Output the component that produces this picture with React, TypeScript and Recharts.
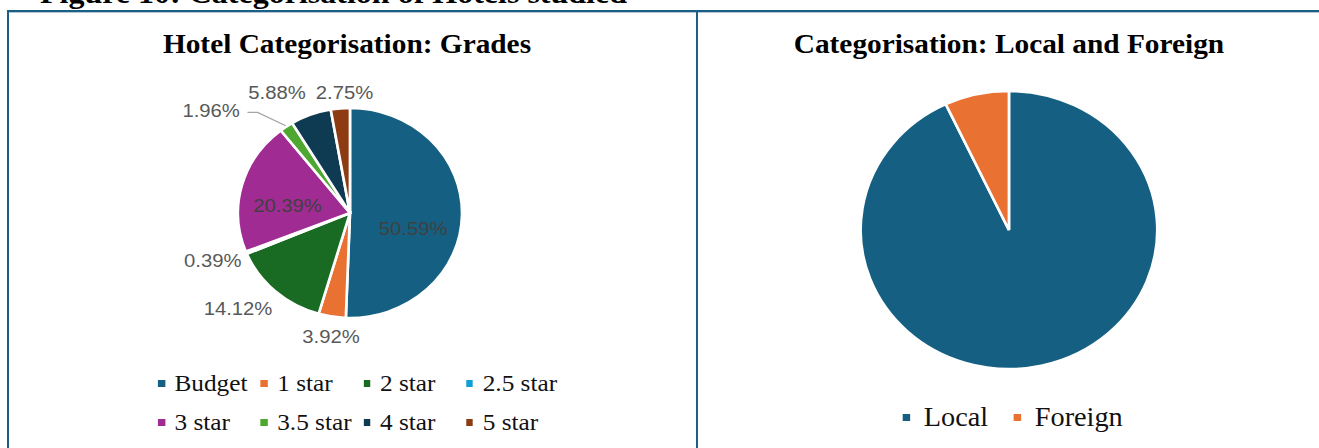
import { PieChart, Pie, Cell, Legend } from 'recharts';

// Hotel grades (percent of hotels studied)
const GRADES = ['Budget', '1 star', '2 star', '2.5 star', '3 star', '3.5 star', '4 star', '5 star'];
const GRADE_SHARE = [50.59, 3.92, 14.12, 0.39, 20.39, 1.96, 5.88, 2.75];
const GRADE_COLORS = ['#156082', '#E97132', '#196B24', '#0F9ED5', '#A02B93', '#4EA72E', '#0E3A52', '#8C3B12'];

// Local vs foreign ownership
const ORIGINS = ['Local', 'Foreign'];
const ORIGIN_SHARE = [93, 7];
const ORIGIN_COLORS = ['#156082', '#E97132'];

// label placement per slice: distance from centre and angle nudge (deg), like Excel's best fit
const GRADE_LABEL_POS = [
    { r: 61, da: -13 },
    { r: 125, da: 1 },
    { r: 142, da: -6 },
    { r: 137, da: -2 },
    { r: 59, da: 8 },
    { r: 166, da: 17 },
    { r: 139, da: 9 },
    { r: 121, da: -2.5 },
];

const STRETCH = 1.067; // the source figure is slightly stretched horizontally
const RADIAN = Math.PI / 180;
const BORDER = '#1a5f87';

const gradeData = GRADES.map((name, i) => ({ name, value: GRADE_SHARE[i] }));
const originData = ORIGINS.map((name, i) => ({ name, value: ORIGIN_SHARE[i] }));

const GradeLabel = (props: any) => {
    const { cx, cy, midAngle, outerRadius, index, value } = props;
    const pos = GRADE_LABEL_POS[index];
    const a = (midAngle + pos.da) * RADIAN;
    const tx = cx + pos.r * Math.cos(a);
    const ty = cy - pos.r * Math.sin(a);
    const inside = pos.r < outerRadius;
    const text = (
        <text x={tx} y={ty} textAnchor="middle" dominantBaseline="central"
            fontFamily="'Liberation Sans', Arial, sans-serif" fontSize={19}
            fill={inside ? '#404040' : '#595959'}>
            {`${value.toFixed(2)}%`}
        </text>
    );
    if (index !== 5) return text;
    // leader line for the small 3.5 star slice
    const ex = cx + (outerRadius + 1) * Math.cos(midAngle * RADIAN);
    const ey = cy - (outerRadius + 1) * Math.sin(midAngle * RADIAN);
    return (
        <g>
            <polyline points={`${tx + 34},${ty + 2.5} ${tx + 43.5},${ty + 2.5} ${ex},${ey}`}
                fill="none" stroke="#a6a6a6" strokeWidth={1.3} />
            {text}
        </g>
    );
};

const legendItem = (name: string, color: string, size: number, font: number, gap: number, width?: number) => (
    <div key={name} style={{ display: 'flex', alignItems: 'center', width, height: 39 }}>
        <span style={{ width: size - 0.5, height: size, background: color, marginRight: gap, flexShrink: 0 }} />
        <span style={{ fontSize: font, color: '#111', whiteSpace: 'nowrap' }}>{name}</span>
    </div>
);

const GradeLegend = () => (
    <div style={{ display: 'flex', flexWrap: 'wrap', width: 386, fontFamily: "'Liberation Serif', serif" }}>
        {GRADES.map((g, i) => legendItem(g, GRADE_COLORS[i], 7, 23.7, 9, 96.3))}
    </div>
);

const OriginLegend = () => (
    <div style={{ display: 'flex', fontFamily: "'Liberation Serif', serif" }}>
        {ORIGINS.map((g, i) => legendItem(g, ORIGIN_COLORS[i], 7, 26.5, 13, i === 0 ? 104 : undefined))}
    </div>
);

export default function App() {
    return (
        <div style={{ position: 'absolute', left: 0, top: 0, width: 1319, height: 448, overflow: 'hidden', background: '#fff' }}>
            <div style={{
                position: 'absolute', left: 0, top: 0, width: 1236, height: 448,
                transform: `scaleX(${STRETCH})`, transformOrigin: '0 0',
            }}>
                <svg width={1236} height={448} style={{ position: 'absolute', left: 0, top: 0 }}>
                    <text x={37.5} y={3} fontFamily="'Liberation Serif', serif" fontWeight="bold" fontSize={30} fill="#000">
                        Figure 10: Categorisation of Hotels studied
                    </text>
                    <text x={325.2} y={53} textAnchor="middle" fontFamily="'Liberation Serif', serif" fontWeight="bold" fontSize={27.5} fill="#000">
                        Hotel Categorisation: Grades
                    </text>
                    <text x={945.6} y={53} textAnchor="middle" fontFamily="'Liberation Serif', serif" fontWeight="bold" fontSize={27.5} fill="#000">
                        Categorisation: Local and Foreign
                    </text>
                </svg>

                <div style={{ position: 'absolute', left: 0, top: 0 }}>
                    <PieChart width={652} height={448} margin={{ top: 0, right: 0, bottom: 0, left: 0 }}>
                        <Pie data={gradeData} dataKey="value" nameKey="name" cx={328} cy={213} outerRadius={105}
                            startAngle={90} endAngle={-270} stroke="#fff" strokeWidth={2.5}
                            label={GradeLabel} labelLine={false} isAnimationActive={false}>
                            {gradeData.map((d, i) => <Cell key={d.name} fill={GRADE_COLORS[i]} />)}
                        </Pie>
                        <Legend content={<GradeLegend />} wrapperStyle={{ left: 148, top: 364, width: 400 }} />
                    </PieChart>
                </div>

                <div style={{ position: 'absolute', left: 652, top: 0 }}>
                    <PieChart width={584} height={448} margin={{ top: 0, right: 0, bottom: 0, left: 0 }}>
                        <Pie data={originData} dataKey="value" nameKey="name" cx={293.6} cy={230} outerRadius={139}
                            startAngle={90} endAngle={-270} stroke="#fff" strokeWidth={2.5}
                            isAnimationActive={false}>
                            {originData.map((d, i) => <Cell key={d.name} fill={ORIGIN_COLORS[i]} />)}
                        </Pie>
                        <Legend content={<OriginLegend />} wrapperStyle={{ left: 194.3, top: 398, width: 300 }} />
                    </PieChart>
                </div>
            </div>

            {/* frame lines */}
            <div style={{ position: 'absolute', left: 7, top: 10, width: 1312, height: 2, background: BORDER }} />
            <div style={{ position: 'absolute', left: 7, top: 12, width: 1312, height: 1, background: '#b4c8d4' }} />
            <div style={{ position: 'absolute', left: 7, top: 10, width: 2, height: 438, background: BORDER }} />
            <div style={{ position: 'absolute', left: 696, top: 10, width: 2, height: 438, background: BORDER }} />
        </div>
    );
}
